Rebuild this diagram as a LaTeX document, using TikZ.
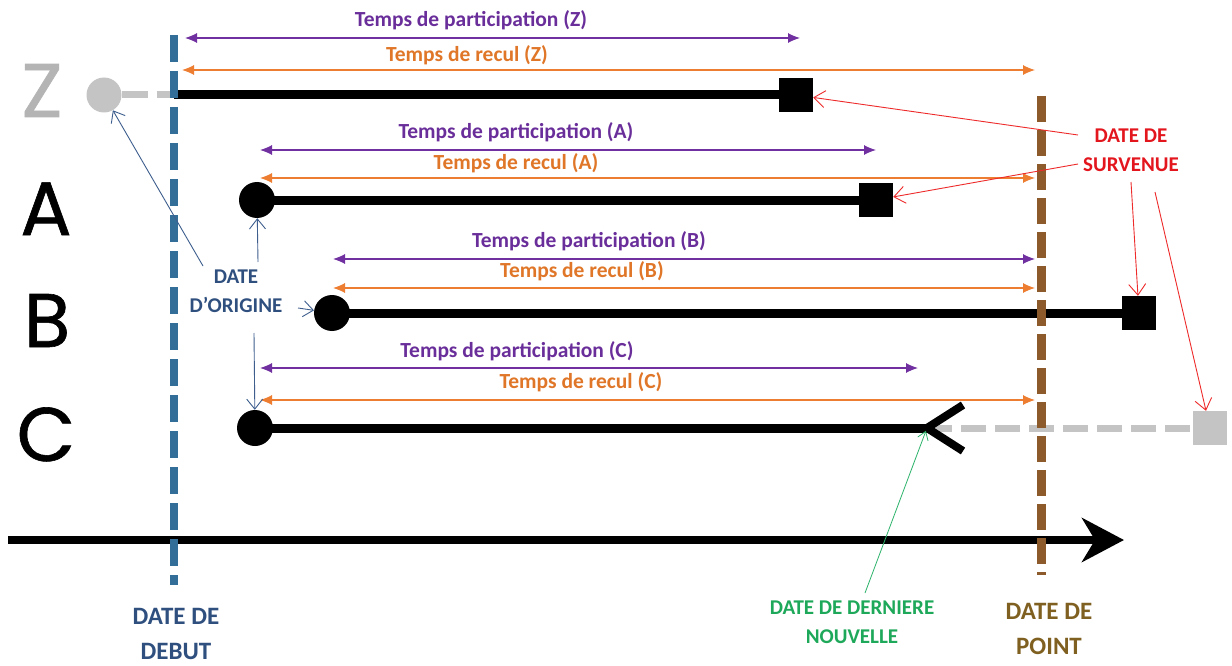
\documentclass[tikz,border=0pt]{standalone}
\usepackage{fontspec}
\setmainfont{Carlito}
\newfontfamily\rowfont[FakeBold=0.8]{Poppins}
\usetikzlibrary{arrows.meta}
\definecolor{partc}{HTML}{7030A0}
\definecolor{reculc}{HTML}{ED7D31}
\definecolor{partt}{HTML}{6A2E9A}
\definecolor{reculltxt}{HTML}{E07628}
\definecolor{ghost}{HTML}{C4C4C4}
\definecolor{ghostletter}{HTML}{B4B4B4}
\definecolor{debutc}{HTML}{336E99}
\definecolor{pointc}{HTML}{8C5A2B}
\definecolor{origc}{HTML}{2F4F7F}
\definecolor{origarrowc}{HTML}{3E5F8E}
\definecolor{survc}{HTML}{E3161E}
\definecolor{survarrowc}{HTML}{EE2A2A}
\definecolor{dernc}{HTML}{1EA85A}
\definecolor{dernarrowc}{HTML}{2DB36B}
\definecolor{pointtxt}{HTML}{7F6020}
\begin{document}
\begin{tikzpicture}[x=1pt,y=-1pt,
  lifeline/.style={line width=9pt,draw=black},
  startdot/.style={circle,fill=black,minimum size=36pt,inner sep=0pt},
  enddot/.style={rectangle,fill=black,minimum size=34pt,inner sep=0pt},
  ghostdot/.style={circle,fill=ghost,minimum size=35pt,inner sep=0pt},
  ghostsq/.style={rectangle,fill=ghost,minimum size=34pt,inner sep=0pt},
  ghostline/.style={line width=7pt,draw=ghost,dash pattern=on 26pt off 9pt},
  spanarrow/.style={line width=1.1pt,{Latex[length=12pt,width=10pt]}-{Latex[length=12pt,width=10pt]}},
  partarrow/.style={spanarrow,draw=partc},
  recularrow/.style={spanarrow,draw=reculc},
  spantext/.style={inner sep=0pt,font=\bfseries\fontsize{21.5}{24}\selectfont},
  parttext/.style={spantext,text=partt},
  reculltext/.style={spantext,text=reculltxt},
  rowletter/.style={anchor=base,inner sep=0pt,font=\rowfont\fontsize{76}{76}\selectfont},
  note/.style={inner sep=0pt,align=center,font=\bfseries\fontsize{21}{29}\selectfont},
  bignote/.style={inner sep=0pt,align=center,font=\bfseries\fontsize{25}{35}\selectfont},
  origarrow/.style={draw=origarrowc,line width=0.9pt,-{Straight Barb[length=10pt,width=16pt]}},
  survarrow/.style={draw=survarrowc,line width=0.9pt,-{Straight Barb[length=11pt,width=17pt]}},
  dernarrow/.style={draw=dernarrowc,line width=0.8pt,-{Straight Barb[length=8pt,width=11pt]}}
]
\useasboundingbox (0,0) rectangle (1232,666);
\fill[white] (0,0) rectangle (1232,666);

% row letters
\node[rowletter,text=ghostletter] (lz) at (42,117) {Z};
\node[rowletter] (la) at (46,235) {A};
\node[rowletter] (lb) at (47,347) {B};
\node[rowletter] (lc) at (46,461) {C};

% row Z
\node[ghostdot] (z0) at (104,95) {};
\coordinate (zs) at (174,95);
\node[enddot] (z1) at (796,95) {};
\draw[ghostline] (z0.east) -- (zs);
\draw[lifeline] (zs) -- (z1.center);

% row A
\node[startdot] (a0) at (257,200) {};
\node[enddot] (a1) at (876,200) {};
\draw[lifeline] (a0.center) -- (a1.center);

% row B
\node[startdot] (b0) at (332,313) {};
\node[enddot] (b1) at (1139,313) {};
\draw[lifeline] (b0.center) -- (b1.center);

% row C
\node[startdot] (c0) at (255,428) {};
\coordinate (cv) at (927,428);
\coordinate (cvu) at (963,405);
\coordinate (cvd) at (963,451);
\node[ghostsq] (c1) at (1210,428) {};
\draw[ghostline,dash pattern=on 25pt off 9pt] (cv) -- (c1.west);
\draw[lifeline] (c0.center) -- (cv);
\draw[line width=8pt] (cvu) -- (cv) -- (cvd);

% time axis
\coordinate (ax0) at (8,540);
\coordinate (ax1) at (1124,540);
\draw[line width=8pt,-{Stealth[length=42pt,width=44pt,inset=13pt]}] (ax0) -- (ax1);

% vertical dashed lines
\coordinate (deb0) at (174,35);
\coordinate (deb1) at (174,585);
\draw[line width=8pt,draw=debutc,dash pattern=on 27pt off 9pt] (deb0) -- (deb1);
\coordinate (pt0) at (1041,96);
\coordinate (pt1) at (1041,575);
\draw[line width=9pt,draw=pointc,dash pattern=on 26pt off 8pt] (pt0) -- (pt1);

% span arrows
\coordinate (pz0) at (185,38);  \coordinate (pz1) at (800,38);
\coordinate (rz0) at (182,70);  \coordinate (rz1) at (1035,70);
\coordinate (pa0) at (260,150); \coordinate (pa1) at (876,150);
\coordinate (ra0) at (260,178); \coordinate (ra1) at (1035,178);
\coordinate (pb0) at (333,259); \coordinate (pb1) at (1035,259);
\coordinate (rb0) at (333,288); \coordinate (rb1) at (1035,288);
\coordinate (pc0) at (260,368); \coordinate (pc1) at (918,368);
\coordinate (rc0) at (260,400); \coordinate (rc1) at (1035,400);
\draw[partarrow] (pz0) -- (pz1);
\draw[recularrow] (rz0) -- (rz1);
\draw[partarrow] (pa0) -- (pa1);
\draw[recularrow] (ra0) -- (ra1);
\draw[partarrow] (pb0) -- (pb1);
\draw[recularrow] (rb0) -- (rb1);
\draw[partarrow] (pc0) -- (pc1);
\draw[recularrow] (rc0) -- (rc1);

\node[parttext] (tpz) at (471,20) {Temps de participation (Z)};
\node[reculltext] (trz) at (467,55) {Temps de recul (Z)};
\node[parttext] (tpa) at (516,132) {Temps de participation (A)};
\node[reculltext] (tra) at (516,163) {Temps de recul (A)};
\node[parttext] (tpb) at (589,241) {Temps de participation (B)};
\node[reculltext] (trb) at (582,271) {Temps de recul (B)};
\node[parttext] (tpc) at (517,351) {Temps de participation (C)};
\node[reculltext] (trc) at (581,382) {Temps de recul (C)};

% DATE D'ORIGINE
\node[note,text=origc] (orig) at (236,291) {DATE\\D’ORIGINE};
\coordinate (o1) at (203,266);
\coordinate (o2) at (258,262);
\coordinate (o3) at (298,308);
\coordinate (o4) at (254,333);
\draw[origarrow] (o1) -- (z0);
\draw[origarrow] (o2) -- (a0);
\draw[origarrow] (o3) -- (b0);
\draw[origarrow] (o4) -- (c0);

% DATE DE SURVENUE
\node[note,text=survc] (surv) at (1131,150) {DATE DE\\SURVENUE};
\coordinate (s1) at (1078,135);
\coordinate (s2) at (1078,164);
\coordinate (s3) at (1131,182);
\coordinate (s4) at (1155,192);
\draw[survarrow] (s1) -- (z1);
\draw[survarrow] (s2) -- (a1);
\draw[survarrow] (s3) -- (b1);
\draw[survarrow] (s4) -- (c1);

% DATE DE DERNIERE NOUVELLE
\node[note,text=dernc] (dern) at (852,622) {DATE DE DERNIERE\\NOUVELLE};
\coordinate (g1) at (865,593);
\draw[dernarrow,shorten >=3pt] (g1) -- (cv);

% bottom labels
\node[bignote,text=origc] (debut) at (176,634) {DATE DE\\DEBUT};
\node[bignote,text=pointtxt] (point) at (1049,629) {DATE DE\\POINT};
\end{tikzpicture}
\end{document}
